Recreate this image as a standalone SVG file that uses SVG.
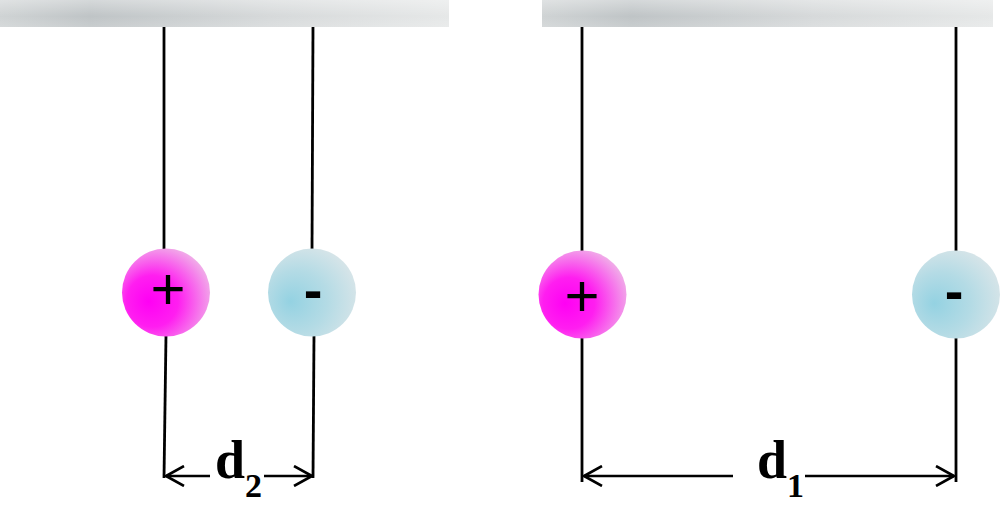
<svg xmlns="http://www.w3.org/2000/svg" width="1000" height="507" viewBox="0 0 1000 507">
<style>
.thread{stroke:#000;stroke-width:2.8;fill:none}
.dim{stroke:#000;stroke-width:2.6;fill:none}
.sign{font-family:"Liberation Sans",Arial,sans-serif;fill:#000;text-anchor:middle}
.lbl{font-family:"Liberation Serif","Times New Roman",serif;font-weight:bold;fill:#000}
</style>
<defs>
<linearGradient id="barH" x1="0" y1="0" x2="1" y2="0">
<stop offset="0" stop-color="#cfd3d4"/>
<stop offset="0.2" stop-color="#bfc4c6"/>
<stop offset="0.6" stop-color="#d6d9da"/>
<stop offset="1" stop-color="#e6e8e8"/>
</linearGradient>
<linearGradient id="barV" x1="0" y1="0" x2="0" y2="1">
<stop offset="0" stop-color="#ffffff" stop-opacity="0.35"/>
<stop offset="0.6" stop-color="#ffffff" stop-opacity="0"/>
<stop offset="1" stop-color="#ffffff" stop-opacity="0.15"/>
</linearGradient>
<radialGradient id="pos" cx="0.4" cy="0.6" r="0.65" fx="0.3" fy="0.6">
<stop offset="0" stop-color="#ff00f4"/>
<stop offset="0.45" stop-color="#ff1ef0"/>
<stop offset="1" stop-color="#f0b0e8"/>
</radialGradient>
<radialGradient id="neg" cx="0.4" cy="0.6" r="0.7" fx="0.25" fy="0.6">
<stop offset="0" stop-color="#94d2e2"/>
<stop offset="0.5" stop-color="#b4dbe5"/>
<stop offset="1" stop-color="#dce6e9"/>
</radialGradient>
<marker id="ah" viewBox="0 0 20 22" refX="19" refY="11" markerWidth="20" markerHeight="22" markerUnits="userSpaceOnUse" orient="auto-start-reverse">
<path d="M1,1 L19,11 L1,21" fill="none" stroke="#000" stroke-width="2.6"/>
</marker>
</defs>
<g id="bar-left">
<rect x="0" y="0" width="449" height="27" fill="url(#barH)"/>
<rect x="0" y="0" width="449" height="27" fill="url(#barV)"/>
</g>
<g id="bar-right">
<rect x="542" y="0" width="451" height="27" fill="url(#barH)"/>
<rect x="542" y="0" width="451" height="27" fill="url(#barV)"/>
</g>
<g id="connectors">
<line class="thread" x1="164" y1="27" x2="164" y2="250"/>
<line class="thread" x1="166" y1="335" x2="164" y2="478"/>
<line class="thread" x1="313" y1="27" x2="312" y2="250"/>
<line class="thread" x1="314" y1="335" x2="313" y2="478"/>
<line class="thread" x1="582" y1="27" x2="582" y2="252"/>
<line class="thread" x1="582" y1="337" x2="582" y2="482"/>
<line class="thread" x1="956" y1="27" x2="956" y2="252"/>
<line class="thread" x1="956" y1="337" x2="956" y2="482"/>
<line class="dim" x1="210" y1="476" x2="166" y2="476" marker-end="url(#ah)"/>
<line class="dim" x1="264" y1="476" x2="312" y2="476" marker-end="url(#ah)"/>
<line class="dim" x1="733" y1="476" x2="584" y2="476" marker-end="url(#ah)"/>
<line class="dim" x1="805" y1="476" x2="954" y2="476" marker-end="url(#ah)"/>
</g>
<g id="ball-pos-left">
<circle cx="166" cy="292.5" r="44" fill="url(#pos)"/>
<text class="sign" x="168" y="309" font-size="60">+</text>
</g>
<g id="ball-neg-left">
<circle cx="312" cy="292.5" r="44" fill="url(#neg)"/>
<text class="sign" x="313" y="309" font-size="56" font-weight="bold">-</text>
</g>
<g id="ball-pos-right">
<circle cx="582.5" cy="294.5" r="44" fill="url(#pos)"/>
<text class="sign" x="582" y="316" font-size="60">+</text>
</g>
<g id="ball-neg-right">
<circle cx="956" cy="294.5" r="44" fill="url(#neg)"/>
<text class="sign" x="954" y="310" font-size="56" font-weight="bold">-</text>
</g>
<g id="label-d2">
<text class="lbl" x="215" y="478" font-size="54">d<tspan font-size="34" dy="19">2</tspan></text>
</g>
<g id="label-d1">
<text class="lbl" x="757" y="478" font-size="54">d<tspan font-size="34" dy="19">1</tspan></text>
</g>
</svg>
